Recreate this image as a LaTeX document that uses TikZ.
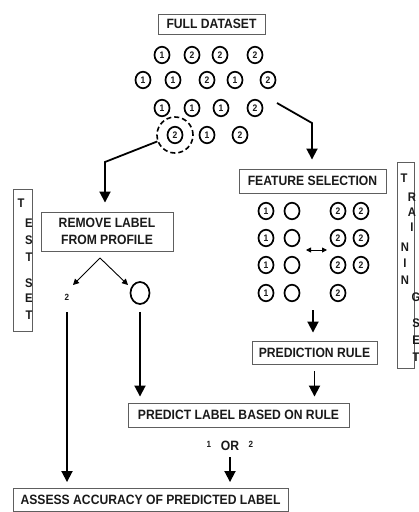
\documentclass[tikz,border=0pt]{standalone}
\usepackage{fontspec}
\setmainfont{Liberation Sans}[FakeStretch=0.9]
\usepackage{tikz}
\usetikzlibrary{arrows.meta,calc,positioning,shapes.geometric}
\definecolor{boxgray}{HTML}{5E5E5E}
\definecolor{inkdark}{HTML}{1A1A1A}

\begin{document}
\begin{tikzpicture}[x=1pt,y=-1pt,font=\bfseries\fontsize{13.5}{15}\selectfont,text=inkdark]
  \tikzset{stagebox/.style={draw=boxgray, line width=0.9pt, fill=white, align=center, inner sep=0pt},
    sample/.style={draw=black, ellipse, line width=1.7pt, minimum width=15pt, minimum height=16.5pt, inner sep=0pt, font=\bfseries\fontsize{9.5}{9.5}\selectfont},
    sidebox/.style={draw=boxgray, line width=0.9pt, inner sep=0pt},
    sideletter/.style={font=\bfseries\fontsize{12.5}{12.5}\selectfont, inner sep=0pt},
    smalldigit/.style={font=\bfseries\fontsize{9}{9}\selectfont, inner sep=0pt},
    flowarrow/.style={-{Triangle[length=11pt,width=11pt]}, line width=1.8pt},
    thinarrow/.style={-{Triangle[length=6pt,width=6pt]}, line width=0.9pt}}
  \useasboundingbox (0,0) rectangle (419,512);

  % full dataset
  \node[stagebox, minimum width=107pt, minimum height=20pt] (full) at (211.5,24) {FULL DATASET};
  \foreach \x/\y/\l [count=\i] in {162/55/1,192/55/2,220/55/2,255/55/2,
      143/80/1,173/80/1,207/80/2,235/80/1,268/80/2,
      162/108/1,192/108/1,221/108/1,255/108/2,
      175/135/2,207/135/1,240/135/2}
    \node[sample] (s\i) at (\x,\y) {\l};
  \node[draw=black, circle, line width=1.6pt, dash pattern=on 5pt off 3pt, minimum size=36pt] (pick) at (s14) {};

  % side labels
  \node[sidebox, minimum width=19pt, minimum height=142pt] (testbox) at (22.5,260) {};
  \foreach \x/\y/\c [count=\i] in {21/203/T,29/223/E,29/240/S,29/257/T,29/283/S,29/298/E,29/315/T}
    \node[sideletter] (test\i) at (\x,\y) {\c};
  \node[sidebox, minimum width=17pt, minimum height=206pt] (trainbox) at (405.5,265) {};
  \foreach \x/\y/\c [count=\i] in {404/178/T,412/197/R,412/212/A,412/227/I,405/247/N,405/263/I,405/280/N,416/297/G,416/323/S,416/340/E,416/357/T}
    \node[sideletter] (train\i) at (\x,\y) {\c};

  % test branch
  \coordinate (bendL) at (105,162);
  \node[stagebox, minimum width=132pt, minimum height=39pt, font=\bfseries\fontsize{13.5}{17}\selectfont] (remove) at (107,231.5) {REMOVE LABEL\\FROM PROFILE};
  \draw[flowarrow, shorten >=9pt] (pick.200) -- (bendL) -- (bendL |- remove.north);
  \coordinate (fork) at (100,258);
  \coordinate (forkL) at (73,285);
  \coordinate (forkR) at (128,285);
  \draw[thinarrow] (fork) -- (forkL);
  \draw[thinarrow] (fork) -- (forkR);
  \node[smalldigit] (hidden) at (67,297) {2};
  \node[draw=black, ellipse, line width=1.7pt, minimum width=19pt, minimum height=22pt, inner sep=0pt] (blank) at (140,293) {};

  % training branch
  \coordinate (fromR) at (277,103);
  \coordinate (bendR) at (312,123);
  \node[stagebox, minimum width=147pt, minimum height=24pt] (feature) at (312.5,181) {FEATURE SELECTION};
  \draw[flowarrow, shorten >=9pt] (fromR) -- (bendR) -- (bendR |- feature.north);
  \foreach \x/\y/\l [count=\i] in {266/211/1,292/211/{},338/211/2,361/211/2,
      266/238/1,292/238/{},338/238/2,361/238/2,
      266/265/1,292/265/{},338/265/2,361/265/2,
      266/293/1,292/293/{},338/293/2}
    \node[sample] (f\i) at (\x,\y) {\l};
  \coordinate (swapL) at (306,250);
  \coordinate (swapR) at (327,250);
  \draw[{Triangle[length=5pt,width=5pt]}-{Triangle[length=5pt,width=5pt]}, line width=0.9pt] (swapL) -- (swapR);
  \coordinate (groupS) at (313,310);
  \node[stagebox, minimum width=125pt, minimum height=23pt] (rule) at (314.5,352.5) {PREDICTION RULE};
  \draw[flowarrow, shorten >=8pt] (groupS) -- (groupS |- rule.north);

  % prediction and check
  \node[stagebox, minimum width=221pt, minimum height=24pt] (predict) at (238.5,415) {PREDICT LABEL BASED ON RULE};
  \draw[flowarrow, shorten <=7pt, shorten >=6pt] (rule.south) -- (rule.south |- predict.north);
  \draw[flowarrow, shorten <=7pt, shorten >=6pt] (blank.south) -- (blank.south |- predict.north);
  \node[inner sep=0pt] (orword) at (230,446) {OR};
  \node[smalldigit] (one) at (209,444) {1};
  \node[smalldigit] (two) at (251,444) {2};
  \node[stagebox, minimum width=275pt, minimum height=23pt] (assess) at (150.5,500) {ASSESS ACCURACY OF PREDICTED LABEL};
  \draw[flowarrow, shorten <=6.5pt, shorten >=6pt] (orword.south) -- (orword.south |- assess.north);
  \draw[flowarrow, shorten <=15pt, shorten >=6pt] (hidden.center) -- (hidden.center |- assess.north);
\end{tikzpicture}
\end{document}
